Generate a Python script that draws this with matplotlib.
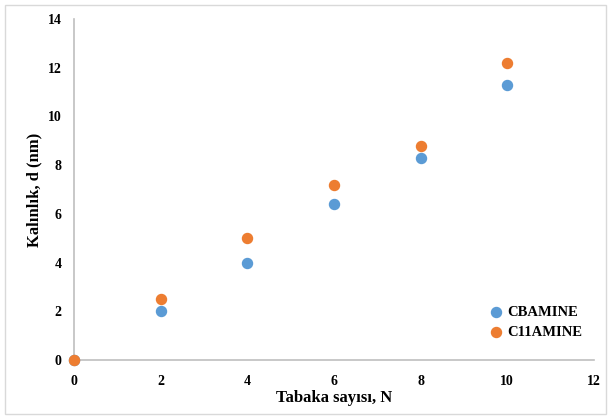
import matplotlib.pyplot as plt
from matplotlib.patches import Rectangle

plt.rcParams['font.family'] = ['Liberation Serif', 'DejaVu Serif']

N = [0, 2, 4, 6, 8, 10]
cbamine = [0, 2, 4, 6.4, 8.3, 11.3]
c11amine = [0, 2.5, 5, 7.2, 8.8, 12.2]

fig = plt.figure(figsize=(6.11, 4.2), dpi=100)
ax = fig.add_axes([0.121, 0.143, 0.851, 0.812])

ax.scatter(N, cbamine, s=52, color='#5b9bd5', label='CBAMINE', zorder=3, clip_on=False)
ax.scatter(N, c11amine, s=52, color='#ed7d31', label='C11AMINE', zorder=4, clip_on=False)

ax.set_xlim(0, 12)
ax.set_ylim(0, 14)
ax.set_xticks(range(0, 13, 2))
ax.set_yticks(range(0, 15, 2))
ax.tick_params(length=0, labelsize=10)
ax.tick_params(axis='x', pad=11)
ax.tick_params(axis='y', pad=9)
for lab in ax.get_xticklabels() + ax.get_yticklabels():
    lab.set_fontweight('bold')

for s in ['top', 'right']:
    ax.spines[s].set_visible(False)
for s in ['left', 'bottom']:
    ax.spines[s].set_color('#bfbfbf')
    ax.spines[s].set_linewidth(1.2)

ax.set_xlabel('Tabaka sayısı, N', fontsize=12, fontweight='bold', labelpad=1)
ax.set_ylabel('Kalınlık, d (nm)', fontsize=12, fontweight='bold', labelpad=4)

leg = ax.legend(loc='lower right', bbox_to_anchor=(0.995, 0.035), frameon=False,
                prop={'weight': 'bold', 'size': 10.5}, handletextpad=-0.2,
                borderaxespad=0.2, labelspacing=0.5, markerscale=1.0)

fig.patches.append(Rectangle((0.008, 0.015), 0.984, 0.972, transform=fig.transFigure,
                             fill=False, edgecolor='#d9d9d9', linewidth=1))

fig.savefig('out.png', dpi=100)
